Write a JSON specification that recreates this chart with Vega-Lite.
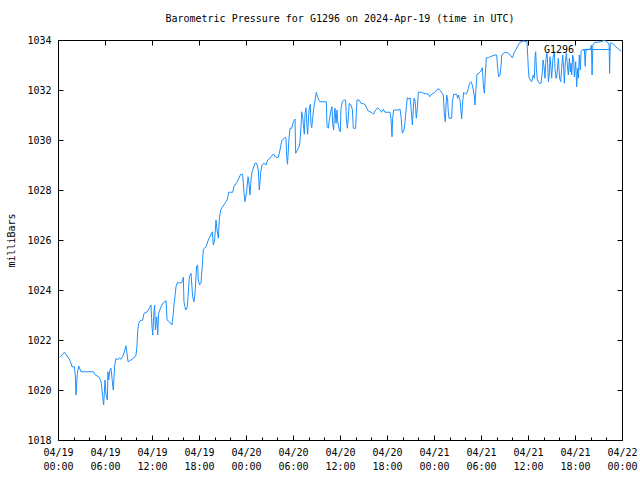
{
"$schema": "https://vega.github.io/schema/vega-lite/v6.json",
"width": 564, "height": 400,
"autosize": {"type": "none"},
"padding": {"left": 58, "top": 40, "right": 18, "bottom": 40},
"background": "white",
"title": {"text": "Barometric Pressure for G1296 on 2024-Apr-19 (time in UTC)", "font": "DejaVu Sans Mono", "fontSize": 10, "fontWeight": "normal", "color": "black", "offset": 11, "anchor": "middle"},
"data": {"values": [
{"hour":0.26,"pressure":1021.31},{"hour":0.81,"pressure":1021.51},{"hour":1.45,"pressure":1021.24},{"hour":1.66,"pressure":1021.07},{"hour":1.79,"pressure":1020.93},{"hour":2.08,"pressure":1020.93},{"hour":2.21,"pressure":1020.6},{"hour":2.30,"pressure":1019.8},{"hour":2.47,"pressure":1020.67},{"hour":2.64,"pressure":1020.96},{"hour":2.94,"pressure":1020.73},{"hour":4.51,"pressure":1020.73},{"hour":4.77,"pressure":1020.6},{"hour":5.19,"pressure":1020.53},{"hour":5.40,"pressure":1020.43},{"hour":5.53,"pressure":1020.27},{"hour":5.70,"pressure":1019.73},{"hour":5.83,"pressure":1019.4},{"hour":6.00,"pressure":1020.4},{"hour":6.13,"pressure":1019.8},{"hour":6.30,"pressure":1019.6},{"hour":6.38,"pressure":1020.73},{"hour":6.47,"pressure":1020.4},{"hour":6.64,"pressure":1020.83},{"hour":6.77,"pressure":1020.87},{"hour":6.98,"pressure":1020.2},{"hour":7.06,"pressure":1020.0},{"hour":7.23,"pressure":1020.96},{"hour":7.40,"pressure":1021.27},{"hour":7.62,"pressure":1021.2},{"hour":7.83,"pressure":1021.29},{"hour":8.04,"pressure":1021.23},{"hour":8.26,"pressure":1021.33},{"hour":8.47,"pressure":1021.53},{"hour":8.68,"pressure":1021.77},{"hour":8.94,"pressure":1021.13},{"hour":9.32,"pressure":1021.2},{"hour":9.83,"pressure":1021.33},{"hour":9.96,"pressure":1021.4},{"hour":10.09,"pressure":1021.8},{"hour":10.17,"pressure":1022.33},{"hour":10.30,"pressure":1022.67},{"hour":10.47,"pressure":1022.77},{"hour":10.81,"pressure":1022.8},{"hour":10.98,"pressure":1023.07},{"hour":11.32,"pressure":1023.11},{"hour":11.66,"pressure":1023.27},{"hour":11.87,"pressure":1023.4},{"hour":12.00,"pressure":1022.53},{"hour":12.09,"pressure":1022.2},{"hour":12.21,"pressure":1022.93},{"hour":12.34,"pressure":1023.4},{"hour":12.43,"pressure":1022.4},{"hour":12.60,"pressure":1022.93},{"hour":12.73,"pressure":1022.2},{"hour":12.85,"pressure":1023.07},{"hour":13.15,"pressure":1023.33},{"hour":13.45,"pressure":1023.49},{"hour":13.79,"pressure":1023.57},{"hour":13.92,"pressure":1022.8},{"hour":14.21,"pressure":1022.73},{"hour":14.55,"pressure":1022.6},{"hour":14.72,"pressure":1023.07},{"hour":14.81,"pressure":1023.4},{"hour":14.98,"pressure":1023.87},{"hour":15.06,"pressure":1024.13},
{"hour":15.23,"pressure":1024.29},{"hour":15.79,"pressure":1024.29},{"hour":16.0,"pressure":1024.51},{"hour":16.08,"pressure":1023.53},{"hour":16.3,"pressure":1023.2},{"hour":16.51,"pressure":1023.33},{"hour":16.77,"pressure":1024.53},{"hour":16.98,"pressure":1024.67},{"hour":17.19,"pressure":1023.73},{"hour":17.36,"pressure":1023.53},{"hour":17.49,"pressure":1023.87},{"hour":17.7,"pressure":1024.96},{"hour":17.83,"pressure":1025.0},{"hour":17.91,"pressure":1024.4},{"hour":18.08,"pressure":1024.2},{"hour":18.25,"pressure":1024.27},{"hour":18.38,"pressure":1024.8},{"hour":18.55,"pressure":1025.63},{"hour":18.9,"pressure":1025.73},{"hour":19.19,"pressure":1026.0},{"hour":19.49,"pressure":1026.2},{"hour":19.7,"pressure":1026.33},{"hour":19.83,"pressure":1025.8},{"hour":20.0,"pressure":1026.0},{"hour":20.17,"pressure":1026.8},{"hour":20.3,"pressure":1026.4},{"hour":20.47,"pressure":1026.07},{"hour":20.6,"pressure":1026.87},{"hour":20.77,"pressure":1027.2},{"hour":21.02,"pressure":1027.33},{"hour":21.32,"pressure":1027.47},{"hour":21.62,"pressure":1027.63},{"hour":21.79,"pressure":1027.91},{"hour":22.3,"pressure":1027.91},{"hour":22.47,"pressure":1028.16},{"hour":22.81,"pressure":1028.29},{"hour":23.1,"pressure":1028.47},{"hour":23.32,"pressure":1028.63},{"hour":23.57,"pressure":1028.63},{"hour":23.75,"pressure":1027.87},{"hour":23.87,"pressure":1027.53},{"hour":24.08,"pressure":1027.93},{"hour":24.26,"pressure":1028.53},{"hour":24.38,"pressure":1028.27},{"hour":24.51,"pressure":1027.8},{"hour":24.64,"pressure":1028.4},{"hour":24.77,"pressure":1028.73},{"hour":25.15,"pressure":1029.07},{"hour":25.36,"pressure":1029.07},{"hour":25.57,"pressure":1028.8},{"hour":25.7,"pressure":1028.0},{"hour":25.87,"pressure":1028.67},{"hour":26.04,"pressure":1029.0},{"hour":26.3,"pressure":1029.07},{"hour":26.56,"pressure":1029.0},{"hour":26.77,"pressure":1029.2},{"hour":27.07,"pressure":1029.27},{"hour":27.28,"pressure":1029.36},{"hour":27.49,"pressure":1029.44},{"hour":27.79,"pressure":1029.31},{"hour":28.13,"pressure":1029.31},{"hour":28.34,"pressure":1029.6},{"hour":28.55,"pressure":1029.96},{"hour":28.77,"pressure":1030.04},{"hour":28.98,"pressure":1030.11},{"hour":29.11,"pressure":1030.07},{"hour":29.19,"pressure":1029.33},{"hour":29.3,"pressure":1029.03},
{"hour":29.49,"pressure":1030.07},{"hour":29.62,"pressure":1030.47},{"hour":29.83,"pressure":1030.47},{"hour":30.05,"pressure":1030.73},{"hour":30.26,"pressure":1030.84},{"hour":30.34,"pressure":1029.47},{"hour":30.51,"pressure":1029.56},{"hour":30.77,"pressure":1029.73},{"hour":30.89,"pressure":1029.93},{"hour":31.02,"pressure":1030.53},{"hour":31.11,"pressure":1031.13},{"hour":31.24,"pressure":1030.93},{"hour":31.36,"pressure":1030.47},{"hour":31.45,"pressure":1030.23},{"hour":31.53,"pressure":1031.03},{"hour":31.66,"pressure":1031.29},{"hour":31.79,"pressure":1030.53},{"hour":31.87,"pressure":1030.23},{"hour":32.0,"pressure":1031.0},{"hour":32.09,"pressure":1031.27},{"hour":32.21,"pressure":1031.43},{"hour":32.3,"pressure":1030.6},{"hour":32.39,"pressure":1030.49},{"hour":32.51,"pressure":1030.87},{"hour":32.64,"pressure":1031.27},{"hour":32.72,"pressure":1031.4},{"hour":32.85,"pressure":1031.67},{"hour":32.98,"pressure":1031.91},{"hour":33.11,"pressure":1031.73},{"hour":33.32,"pressure":1031.6},{"hour":33.45,"pressure":1031.53},{"hour":34.26,"pressure":1031.53},{"hour":34.34,"pressure":1030.53},{"hour":34.51,"pressure":1030.47},{"hour":34.64,"pressure":1030.8},{"hour":34.85,"pressure":1031.2},{"hour":34.98,"pressure":1031.33},{"hour":35.06,"pressure":1030.67},{"hour":35.19,"pressure":1030.4},{"hour":35.28,"pressure":1031.07},{"hour":35.36,"pressure":1031.27},{"hour":35.49,"pressure":1030.67},{"hour":35.62,"pressure":1031.2},{"hour":35.7,"pressure":1030.73},{"hour":35.92,"pressure":1030.4},{"hour":36.04,"pressure":1030.33},{"hour":36.13,"pressure":1031.27},{"hour":36.3,"pressure":1031.53},{"hour":36.47,"pressure":1031.6},{"hour":36.72,"pressure":1031.6},{"hour":36.81,"pressure":1030.87},{"hour":36.94,"pressure":1030.47},{"hour":37.06,"pressure":1030.93},{"hour":37.19,"pressure":1031.47},{"hour":37.41,"pressure":1031.4},{"hour":37.58,"pressure":1031.2},{"hour":37.7,"pressure":1030.47},{"hour":38.0,"pressure":1030.47},{"hour":38.09,"pressure":1031.13},{"hour":38.17,"pressure":1031.6},{"hour":38.43,"pressure":1031.6},{"hour":38.68,"pressure":1031.47},{"hour":39.19,"pressure":1031.43},{"hour":39.32,"pressure":1031.33},{"hour":39.62,"pressure":1031.16},{"hour":39.96,"pressure":1031.11},{"hour":40.13,"pressure":1031.07},{"hour":40.26,"pressure":1031.03},{"hour":40.47,"pressure":1031.16},{"hour":40.81,"pressure":1031.29},{"hour":41.11,"pressure":1031.2},{"hour":41.32,"pressure":1031.11},{"hour":41.53,"pressure":1031.24},{"hour":41.74,"pressure":1031.11},{"hour":42.38,"pressure":1031.11},{"hour":42.51,"pressure":1030.87},{"hour":42.64,"pressure":1030.13},{"hour":42.72,"pressure":1030.87},{"hour":42.85,"pressure":1031.2},{"hour":43.53,"pressure":1031.2},{"hour":43.66,"pressure":1031.24},{"hour":43.79,"pressure":1030.93},{"hour":43.96,"pressure":1030.27},{"hour":44.17,"pressure":1030.4},{"hour":44.3,"pressure":1030.73},
{"hour":44.47,"pressure":1031.33},{"hour":44.6,"pressure":1031.69},{"hour":44.81,"pressure":1031.64},{"hour":44.94,"pressure":1031.69},{"hour":45.06,"pressure":1031.33},{"hour":45.24,"pressure":1030.6},{"hour":45.36,"pressure":1031.27},{"hour":45.45,"pressure":1031.67},{"hour":45.57,"pressure":1031.6},{"hour":45.66,"pressure":1031.27},{"hour":45.74,"pressure":1030.87},{"hour":45.91,"pressure":1031.4},{"hour":46.0,"pressure":1031.91},{"hour":46.43,"pressure":1031.91},{"hour":46.64,"pressure":1031.87},{"hour":47.28,"pressure":1031.83},{"hour":47.45,"pressure":1031.73},{"hour":47.7,"pressure":1031.83},{"hour":48.13,"pressure":1031.91},{"hour":48.47,"pressure":1032.04},{"hour":48.68,"pressure":1032.03},{"hour":48.9,"pressure":1031.93},{"hour":49.19,"pressure":1031.8},{"hour":49.32,"pressure":1031.0},{"hour":49.45,"pressure":1030.73},{"hour":49.53,"pressure":1031.4},{"hour":49.62,"pressure":1031.8},{"hour":49.74,"pressure":1031.6},{"hour":49.83,"pressure":1031.13},{"hour":49.91,"pressure":1030.87},{"hour":50.26,"pressure":1030.87},{"hour":50.34,"pressure":1031.53},{"hour":50.51,"pressure":1031.83},{"hour":50.89,"pressure":1031.83},{"hour":51.02,"pressure":1031.67},{"hour":51.11,"pressure":1031.8},{"hour":51.32,"pressure":1031.6},{"hour":51.45,"pressure":1031.13},{"hour":51.53,"pressure":1030.84},{"hour":51.66,"pressure":1031.53},{"hour":51.79,"pressure":1031.91},{"hour":52.04,"pressure":1031.83},{"hour":52.21,"pressure":1031.87},{"hour":52.38,"pressure":1032.07},{"hour":52.55,"pressure":1032.27},{"hour":52.72,"pressure":1032.33},{"hour":52.89,"pressure":1032.2},{"hour":53.02,"pressure":1032.0},{"hour":53.15,"pressure":1031.73},{"hour":53.23,"pressure":1031.4},{"hour":53.36,"pressure":1032.07},{"hour":53.49,"pressure":1032.63},{"hour":53.74,"pressure":1032.67},{"hour":54.0,"pressure":1032.76},{"hour":54.17,"pressure":1032.89},{"hour":54.3,"pressure":1032.2},{"hour":54.43,"pressure":1031.87},{"hour":54.55,"pressure":1032.6},{"hour":54.68,"pressure":1033.29},{"hour":54.94,"pressure":1033.29},{"hour":55.15,"pressure":1033.33},{"hour":55.79,"pressure":1033.4},{"hour":56.0,"pressure":1033.4},{"hour":56.13,"pressure":1032.87},{"hour":56.26,"pressure":1032.53},{"hour":56.43,"pressure":1032.6},{"hour":56.55,"pressure":1032.93},{"hour":56.64,"pressure":1033.4},
{"hour":57.07,"pressure":1033.51},{"hour":57.49,"pressure":1033.47},{"hour":57.83,"pressure":1033.37},{"hour":58.0,"pressure":1033.29},{"hour":58.26,"pressure":1033.51},{"hour":58.56,"pressure":1033.67},{"hour":58.77,"pressure":1033.8},{"hour":58.98,"pressure":1033.91},{"hour":59.41,"pressure":1033.96},{"hour":59.87,"pressure":1033.93},{"hour":59.96,"pressure":1033.4},{"hour":60.04,"pressure":1032.87},{"hour":60.13,"pressure":1032.49},{"hour":60.3,"pressure":1032.4},{"hour":60.47,"pressure":1032.33},{"hour":60.68,"pressure":1032.6},{"hour":60.81,"pressure":1032.47},{"hour":60.9,"pressure":1033.33},{"hour":60.98,"pressure":1033.53},{"hour":61.07,"pressure":1032.87},{"hour":61.2,"pressure":1032.4},{"hour":61.45,"pressure":1032.27},{"hour":61.66,"pressure":1032.27},{"hour":61.83,"pressure":1032.73},{"hour":61.92,"pressure":1033.2},{"hour":62.05,"pressure":1032.93},{"hour":62.17,"pressure":1032.47},{"hour":62.3,"pressure":1033.27},{"hour":62.43,"pressure":1033.47},{"hour":62.51,"pressure":1033.07},{"hour":62.6,"pressure":1032.33},{"hour":62.72,"pressure":1032.6},{"hour":62.81,"pressure":1033.33},{"hour":62.94,"pressure":1032.87},{"hour":63.02,"pressure":1032.47},{"hour":63.19,"pressure":1033.29},{"hour":63.36,"pressure":1033.53},{"hour":63.45,"pressure":1032.87},{"hour":63.57,"pressure":1032.47},{"hour":63.7,"pressure":1032.6},{"hour":63.87,"pressure":1033.27},{"hour":64.04,"pressure":1032.47},{"hour":64.17,"pressure":1032.33},{"hour":64.3,"pressure":1032.87},{"hour":64.43,"pressure":1033.4},{"hour":64.55,"pressure":1032.87},{"hour":64.64,"pressure":1032.27},{"hour":64.77,"pressure":1033.13},{"hour":64.9,"pressure":1033.47},{"hour":65.02,"pressure":1033.0},{"hour":65.15,"pressure":1032.6},{"hour":65.28,"pressure":1033.27},{"hour":65.41,"pressure":1032.73},{"hour":65.49,"pressure":1033.07},{"hour":65.58,"pressure":1032.6},{"hour":65.7,"pressure":1033.4},{"hour":65.83,"pressure":1033.2},{"hour":65.92,"pressure":1032.53},{"hour":66.09,"pressure":1033.13},{"hour":66.21,"pressure":1032.13},{"hour":66.34,"pressure":1032.87},{"hour":66.43,"pressure":1032.47},{"hour":66.55,"pressure":1033.4},{"hour":66.68,"pressure":1032.8},{"hour":66.77,"pressure":1033.53},{"hour":66.94,"pressure":1033.6},{"hour":67.2,"pressure":1033.6},{"hour":67.3,"pressure":1032.95},{"hour":67.4,"pressure":1033.6},{"hour":68.0,"pressure":1033.65},{"hour":68.1,"pressure":1033.8},{"hour":68.18,"pressure":1032.6},{"hour":68.28,"pressure":1033.8},{"hour":68.5,"pressure":1033.9},{"hour":69.3,"pressure":1033.93},{"hour":69.8,"pressure":1034.0},{"hour":70.0,"pressure":1033.93},{"hour":70.35,"pressure":1033.85},{"hour":70.42,"pressure":1032.67},{"hour":70.5,"pressure":1033.87},{"hour":70.8,"pressure":1033.87},{"hour":71.2,"pressure":1033.73},{"hour":71.9,"pressure":1033.55}
]},
"resolve": {"axis": {"x": "independent", "y": "independent"}},
"layer": [
{"mark": {"type": "line", "strokeWidth": 1, "clip": true},
 "encoding": {
  "x": {"field": "hour", "type": "quantitative", "scale": {"domain": [0, 72], "nice": false, "zero": false},
        "axis": {"orient": "bottom", "title": null, "values": [0,6,12,18,24,30,36,42,48,54,60,66,72], "tickSize": -5, "labelExpr": "['04/' + (19 + floor(datum.value/24)), (datum.value % 24 < 10 ? '0' : '') + (datum.value % 24) + ':00']", "labelBaseline": "top", "labelLineHeight": 14, "labelPadding": 12, "labelFlush": false, "labelOverlap": false}},
  "y": {"field": "pressure", "type": "quantitative", "scale": {"domain": [1018, 1034], "nice": false, "zero": false},
        "axis": {"orient": "left", "title": "milliBars", "format": "d", "values": [1018,1020,1022,1024,1026,1028,1030,1032,1034], "tickSize": -5, "labelPadding": 12, "titlePadding": 10, "labelFlush": false, "labelOverlap": false}},
  "color": {"datum": "G1296", "type": "nominal", "scale": {"range": ["#1e90ff"]},
            "legend": {"orient": "none", "legendX": 524, "legendY": -5, "title": null, "symbolType": "stroke", "symbolSize": 784, "symbolStrokeWidth": 1, "labelAlign": "right", "labelOffset": -37, "labelFont": "DejaVu Sans Mono", "labelFontSize": 10, "labelColor": "black", "padding": 0}}
 }},
{"mark": {"type": "line", "strokeOpacity": 0},
 "encoding": {
  "x": {"field": "hour", "type": "quantitative", "axis": {"orient": "top", "title": null, "values": [0,6,12,18,24,30,36,42,48,54,60,66,72], "tickSize": -5, "labels": false}},
  "y": {"field": "pressure", "type": "quantitative", "axis": {"orient": "right", "title": null, "values": [1018,1020,1022,1024,1026,1028,1030,1032,1034], "tickSize": -5, "labels": false}}
 }},
{"mark": {"type": "line", "strokeOpacity": 0},
 "encoding": {
  "x": {"field": "hour", "type": "quantitative", "axis": {"orient": "bottom", "title": null, "values": [2,4,8,10,14,16,20,22,26,28,32,34,38,40,44,46,50,52,56,58,62,64,68,70], "tickSize": -3, "labels": false}},
  "y": {"field": "pressure", "type": "quantitative", "axis": null}
 }}
],
"config": {
  "view": {"stroke": "black", "strokeWidth": 1},
  "axis": {"domain": false, "grid": false, "tickColor": "black", "tickWidth": 1, "labelColor": "black", "labelFont": "DejaVu Sans Mono", "labelFontSize": 10, "titleFont": "DejaVu Sans Mono", "titleFontSize": 10, "titleFontWeight": "normal", "titleColor": "black"}
}
}
